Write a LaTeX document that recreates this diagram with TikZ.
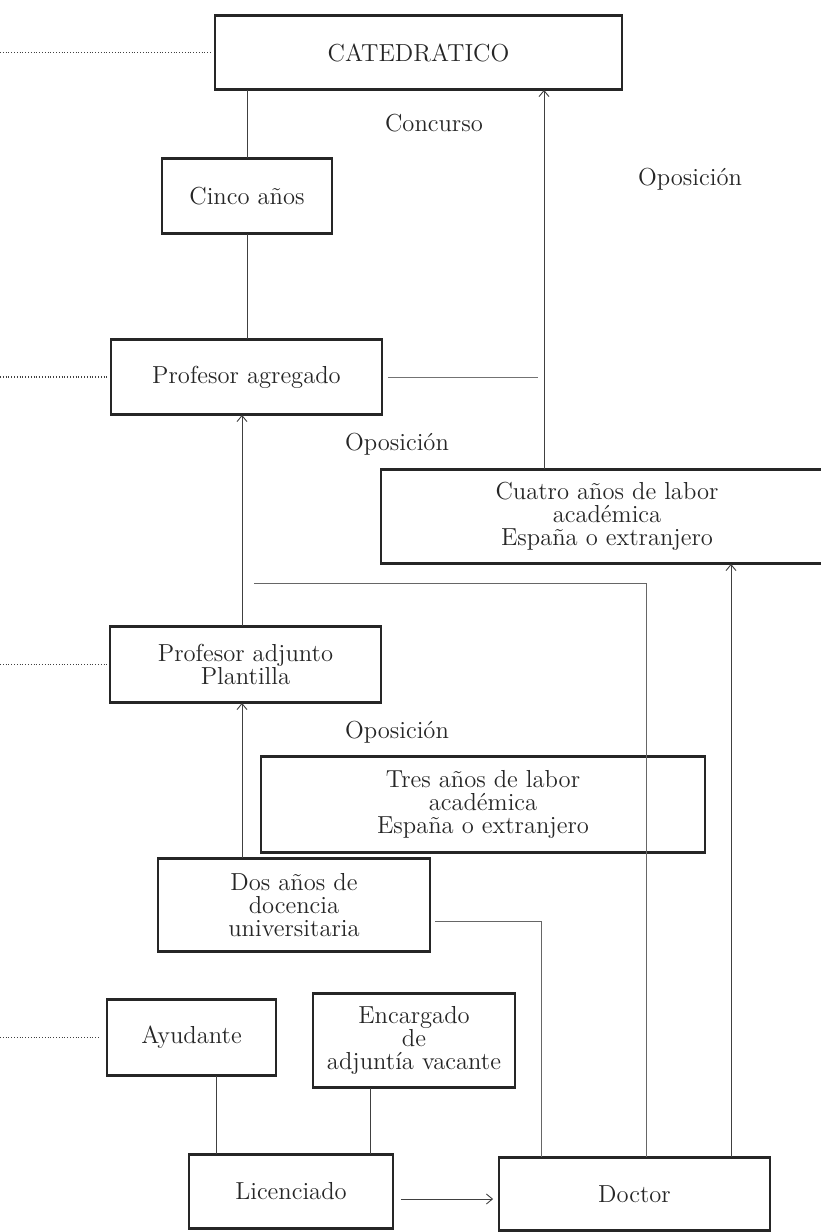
\documentclass[tikz,border=0pt]{standalone}
\usetikzlibrary{arrows.meta,calc}
\newcommand\diagfont{\fontsize{12.3}{11.6}\selectfont}
\tikzset{
 box/.style={draw=black!85, line width=0.9pt, align=center, inner sep=0pt, font=\diagfont, text=black!85},
 conn/.style={line width=0.45pt, draw=black!75},
 arr/.style={line width=0.45pt, draw=black!75, -{Straight Barb[length=3pt,width=5pt]}},
 dots/.style={line width=0.9pt, draw=black!75, dash pattern=on 0.5pt off 0.9pt},
 lbl/.style={inner sep=0pt, font=\diagfont, text=black!85}
}
\begin{document}
\begin{tikzpicture}[x=0.5pt,y=-0.5pt]
\fill[white] (0,0) rectangle (820,1232);
\useasboundingbox (0,0) rectangle (820,1232);
% boxes
\node[box, minimum width=203.5pt, minimum height=36.5pt] (cat) at (418.5,52.5) {CATEDRATICO};
\node[box, minimum width=85pt, minimum height=37pt] (cinco) at (247,196) {Cinco años};
\node[box, minimum width=135.5pt, minimum height=37pt] (agr) at (246.5,377) {Profesor agregado};
\node[box, minimum width=226pt, minimum height=46.5pt] (cuatro) at (607,516.5) {Cuatro años de labor\\académica\\España o extranjero};
\node[box, minimum width=135.5pt, minimum height=37.5pt] (adj) at (245.5,664.5) {Profesor adjunto\\Plantilla};
\node[box, minimum width=222pt, minimum height=47.5pt] (tres) at (483,804.5) {Tres años de labor\\académica\\España o extranjero};
\node[box, minimum width=136pt, minimum height=46pt] (dos) at (294,905) {Dos años de\\docencia\\universitaria};
\node[box, minimum width=84.5pt, minimum height=37.5pt] (ayu) at (191.5,1037.5) {Ayudante};
\node[box, minimum width=101pt, minimum height=46.5pt] (enc) at (414,1040.5) {Encargado\\de\\adjuntía vacante};
\node[box, minimum width=102pt, minimum height=36.5pt] (lic) at (291,1191.5) {Licenciado};
\node[box, minimum width=135.5pt, minimum height=36pt] (doc) at (634.5,1194) {Doctor};
\foreach \n in {cat,cinco,agr,cuatro,adj,tres,dos,ayu,enc,lic,doc}{
 \draw[line width=1.5pt, draw=black!85] (\n.north west) -- (\n.north east) (\n.south west) -- (\n.south east);
}
% labels
\node[lbl] (l1) at (434,123) {Concurso};
\node[lbl] (l2) at (690,179) {Oposición};
\node[lbl] (l3) at (397,444) {Oposición};
\node[lbl] (l4) at (397,732) {Oposición};
% helper coordinates
\coordinate (xa) at (544,0);
\coordinate (xb) at (242,0);
\coordinate (xc) at (646,0);
\coordinate (xd) at (731,0);
\coordinate (xe) at (541,0);
\coordinate (xf) at (216,0);
\coordinate (xg) at (370,0);
\coordinate (j1) at (538,378);
\coordinate (j2) at (254,583);
\coordinate (j3) at (435,921);
\coordinate (x0) at (0,0);
% connectors
\draw[conn] (cinco.north) -- (cinco.north |- cat.south);
\draw[conn] (cinco.south) -- (cinco.south |- agr.north);
\draw[conn, draw=black!55] ([xshift=2.5pt]agr.east) -- (j1 |- agr.east);
\draw[arr] (cuatro.north -| xa) -- (cat.south -| xa);
\draw[arr] (adj.north -| xb) -- (agr.south -| xb);
\draw[conn, draw=black!60] (j2) -| (doc.north -| xc);
\draw[arr] (doc.north -| xd) -- (cuatro.south -| xd);
\draw[arr] (dos.north -| xb) -- (adj.south -| xb);
\draw[conn, draw=black!60] (j3) -| (doc.north -| xe);
\draw[conn] (ayu.south -| xf) -- (lic.north -| xf);
\draw[conn] (enc.south -| xg) -- (lic.north -| xg);
\draw[arr] ([xshift=3.5pt]lic.east |- 0,1199) -- ([xshift=-2.5pt]doc.west |- 0,1199);
% dotted leaders
\draw[dots] (x0 |- cat.west) -- ([xshift=-1pt]cat.west);
\draw[dots] (x0 |- agr.west) -- ([xshift=-1.5pt]agr.west);
\draw[dots] (x0 |- adj.west) -- ([xshift=-1pt]adj.west);
\draw[dots] (x0 |- ayu.west) -- ([xshift=-3.5pt]ayu.west);
\end{tikzpicture}
\end{document}
